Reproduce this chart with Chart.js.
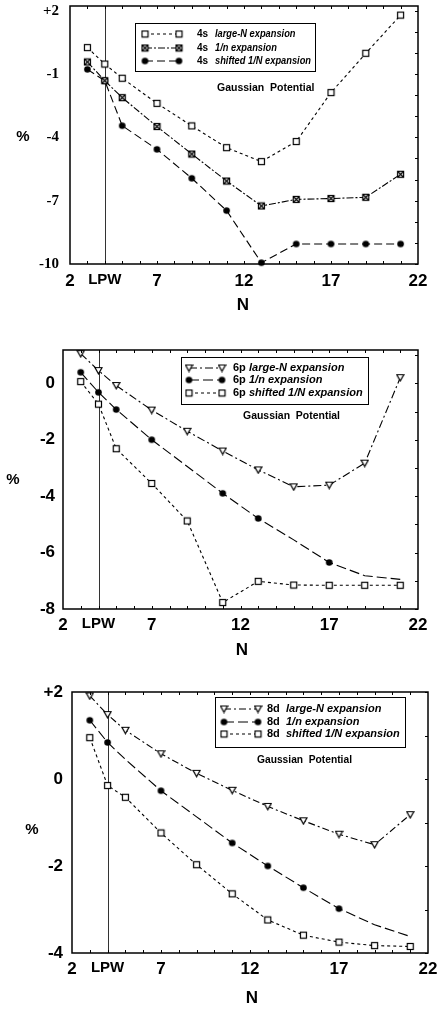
<!DOCTYPE html>
<html>
<head>
<meta charset="utf-8">
<script src="https://cdn.jsdelivr.net/npm/chart.js@4.4.1/dist/chart.umd.min.js"></script>
<style>
  body { margin: 0; background: #fff; }
  canvas { position: absolute; left: 0; }
</style>
</head>
<body>
<canvas id="c4s" width="437" height="330" style="top:0"></canvas>
<canvas id="c6p" width="437" height="330" style="top:330px"></canvas>
<canvas id="c8d" width="437" height="351" style="top:660px"></canvas>
<script>
// N values shared by all three panels
const nValues = [3, 4, 5, 7, 9, 11, 13, 15, 17, 19, 21];
const xTickValues = [2, 4, 7, 12, 17, 22];
const xTickLabels = ['2', 'LPW', '7', '12', '17', '22'];
const lpwN = 4;

// 4s state, % error
const s4LargeN = [0.25, -0.53, -1.2, -2.39, -3.46, -4.49, -5.15, -4.2, -1.88, -0.02, 1.79];
const s4OneN = [-0.43, -1.32, -2.12, -3.49, -4.79, -6.07, -7.25, -6.94, -6.9, -6.84, -5.75];
const s4Shifted = [-0.78, -1.32, -3.45, -4.57, -5.94, -7.47, -9.94, -9.05, -9.05, -9.05, -9.05];
const s4YTicks = [-10, -7, -4, -1, 2];
const s4YLabels = ['-10', '-7', '-4', '-1', '+2'];

// 6p state
const p6LargeN = [1.05, 0.45, -0.08, -0.95, -1.7, -2.4, -3.07, -3.67, -3.61, -2.83, 0.2];
const p6OneN = [0.39, -0.32, -0.93, -2.0, -2.95, -3.9, -4.79, -5.55, -6.35, -6.82, -6.95];
const p6Shifted = [0.06, -0.74, -2.32, -3.55, -4.88, -7.77, -7.02, -7.15, -7.16, -7.16, -7.16];
const p6YTicks = [-8, -6, -4, -2, 0];
const p6YLabels = ['-8', '-6', '-4', '-2', '0'];

// 8d state
const d8LargeN = [1.91, 1.48, 1.12, 0.58, 0.13, -0.26, -0.63, -0.96, -1.27, -1.51, -0.82];
const d8OneN = [1.35, 0.84, 0.45, -0.27, -0.87, -1.47, -2.0, -2.5, -2.98, -3.35, -3.62];
const d8Shifted = [0.95, -0.15, -0.42, -1.24, -1.97, -2.64, -3.24, -3.59, -3.75, -3.83, -3.85];
const d8YTicks = [-4, -2, 0, 2];
const d8YLabels = ['-4', '-2', '0', '+2'];

const seriesNames = ['large-N expansion', '1/n expansion', 'shifted 1/N expansion'];

function makeMarker(kind) {
    const c = document.createElement('canvas');
    c.width = 9;
    c.height = 9;
    const g = c.getContext('2d');
    g.lineWidth = 1.2;
    g.strokeStyle = '#000';
    g.fillStyle = '#fff';
    if (kind === 'square' || kind === 'xsquare') {
        g.fillRect(1.5, 1.5, 6, 6);
        g.strokeRect(1.5, 1.5, 6, 6);
        if (kind === 'xsquare') {
            g.beginPath();
            g.moveTo(2, 2); g.lineTo(7, 7);
            g.moveTo(7, 2); g.lineTo(2, 7);
            g.stroke();
        }
    } else if (kind === 'circle') {
        g.fillStyle = '#000';
        g.beginPath();
        g.arc(4.5, 4.5, 3.3, 0, Math.PI * 2);
        g.fill();
    } else if (kind === 'triangle') {
        g.beginPath();
        g.moveTo(1, 1.5); g.lineTo(8, 1.5); g.lineTo(4.5, 7.8);
        g.closePath();
        g.fill();
        g.stroke();
    }
    return c;
}

const markers = {
    square: makeMarker('square'),
    xsquare: makeMarker('xsquare'),
    circle: makeMarker('circle'),
    triangle: makeMarker('triangle'),
};

const SANS = '"Liberation Sans", Arial, sans-serif';
const SERIF = '"Liberation Serif", "Times New Roman", serif';

const makeDecor = (cfg) => ({
    id: 'decor',
    beforeDatasetsDraw(chart) {
        const { ctx, chartArea: a, scales: { x } } = chart;
        const px = Math.round(x.getPixelForValue(lpwN)) + 0.5;
        ctx.save();
        ctx.strokeStyle = '#333';
        ctx.lineWidth = 1;
        ctx.beginPath();
        ctx.moveTo(px, a.top);
        ctx.lineTo(px, a.bottom);
        ctx.stroke();
        ctx.restore();
    },
    afterDraw(chart) {
        const { ctx, chartArea: a, scales: { x, y } } = chart;
        ctx.save();

        // frame
        ctx.strokeStyle = '#000';
        ctx.lineWidth = 1.5;
        ctx.strokeRect(a.left, a.top, a.right - a.left, a.bottom - a.top);

        // small inward ticks
        ctx.lineWidth = 1;
        ctx.beginPath();
        for (let n = 3; n < 22; n++) {
            const px = Math.round(x.getPixelForValue(n)) + 0.5;
            ctx.moveTo(px, a.bottom); ctx.lineTo(px, a.bottom - 3);
            ctx.moveTo(px, a.top); ctx.lineTo(px, a.top + 3);
        }
        for (let v = Math.ceil(y.min); v <= y.max; v++) {
            const py = Math.round(y.getPixelForValue(v)) + 0.5;
            ctx.moveTo(a.right, py); ctx.lineTo(a.right - 3, py);
        }
        ctx.stroke();

        // legend box
        const lg = cfg.legend;
        ctx.fillStyle = '#fff';
        ctx.fillRect(lg.x, lg.y, lg.w, lg.h);
        ctx.lineWidth = 1;
        ctx.strokeRect(lg.x + 0.5, lg.y + 0.5, lg.w, lg.h);
        const descFont = 'italic bold ' + lg.size + 'px ' + SANS;
        ctx.font = descFont;
        const longest = Math.max(...seriesNames.map((t) => ctx.measureText(t).width));
        const squeeze = Math.min(1, (lg.x + lg.w - 4 - lg.dx) / longest);
        cfg.series.forEach((s, i) => {
            const ry = lg.rows[i];
            ctx.setLineDash(s.dash);
            ctx.beginPath();
            ctx.moveTo(lg.sx0, ry);
            ctx.lineTo(lg.sx1, ry);
            ctx.stroke();
            ctx.setLineDash([]);
            const m = markers[s.marker];
            ctx.drawImage(m, lg.sx0 - 4.5, ry - 4.5);
            ctx.drawImage(m, lg.sx1 - 4.5, ry - 4.5);
            ctx.fillStyle = '#000';
            ctx.textBaseline = 'middle';
            ctx.textAlign = 'left';
            ctx.font = 'bold ' + lg.size + 'px ' + SANS;
            ctx.fillText(cfg.state, lg.px, ry);
            ctx.font = descFont;
            const w = ctx.measureText(seriesNames[i]).width * squeeze;
            ctx.fillText(seriesNames[i], lg.dx, ry, w);
        });

        // labels
        ctx.fillStyle = '#000';
        ctx.textBaseline = 'middle';
        ctx.textAlign = 'left';
        ctx.font = 'bold 10.5px ' + SANS;
        ctx.fillText('Gaussian  Potential', cfg.gauss.x, cfg.gauss.y, cfg.gauss.w);
        ctx.textAlign = 'center';
        ctx.font = 'bold 15px ' + SANS;
        ctx.fillText('%', cfg.percent.x, cfg.percent.y);
        ctx.font = 'bold 17px ' + SANS;
        ctx.fillText('N', cfg.nLabel.x, cfg.nLabel.y);
        ctx.restore();
    },
});

const makePanel = (id, cfg) => {
    const canvas = document.getElementById(id);
    const W = canvas.width;
    const H = canvas.height;
    return new Chart(canvas, {
        type: 'line',
        data: {
            datasets: cfg.series.map((s) => ({
                data: nValues.map((n, i) => ({ x: n, y: s.values[i] })),
                borderColor: '#000',
                borderWidth: 1.1,
                borderDash: s.dash,
                pointStyle: markers[s.marker],
                pointRadius: (c) => (c.dataIndex !== undefined && (s.hide || []).includes(nValues[c.dataIndex])) ? 0 : 4,
                tension: 0,
                fill: false,
                clip: false,
            })),
        },
        options: {
            responsive: false,
            maintainAspectRatio: false,
            animation: false,
            events: [],
            devicePixelRatio: 1,
            layout: { padding: { top: cfg.area.top, right: W - cfg.area.right, left: 0, bottom: 0 } },
            plugins: { legend: { display: false }, tooltip: { enabled: false } },
            scales: {
                x: {
                    type: 'linear',
                    min: 2,
                    max: 22,
                    afterBuildTicks: (sc) => { sc.ticks = xTickValues.map((v) => ({ value: v })); },
                    afterFit: (sc) => { sc.height = H - cfg.area.bottom; sc.paddingLeft = 0; sc.paddingRight = 0; },
                    grid: { display: false, drawTicks: false },
                    border: { display: false },
                    ticks: {
                        autoSkip: false,
                        maxRotation: 0,
                        padding: cfg.xPad,
                        color: '#000',
                        font: (c) => ({ family: SANS, weight: 'bold', size: (c.tick && c.tick.value === lpwN) ? 15 : 17 }),
                        callback: (v) => xTickLabels[xTickValues.indexOf(v)],
                    },
                },
                y: {
                    type: 'linear',
                    min: cfg.yMin,
                    max: cfg.yMax,
                    afterBuildTicks: (sc) => { sc.ticks = cfg.yTicks.map((v) => ({ value: v })); },
                    afterFit: (sc) => { sc.width = cfg.area.left; sc.paddingTop = 0; sc.paddingBottom = 0; },
                    grid: { display: false, drawTicks: false },
                    border: { display: false },
                    ticks: {
                        autoSkip: false,
                        padding: cfg.yPad,
                        color: '#000',
                        font: { family: cfg.yFont, weight: 'bold', size: cfg.yFontSize },
                        callback: (v) => cfg.yLabels[cfg.yTicks.indexOf(v)],
                    },
                },
            },
        },
        plugins: [makeDecor(cfg)],
    });
};

makePanel('c4s', {
    state: '4s',
    area: { left: 70, right: 418, top: 6, bottom: 264 },
    yMin: -10, yMax: 2.22, yTicks: s4YTicks, yLabels: s4YLabels,
    yFont: SERIF, yFontSize: 15, yPad: 11, xPad: 7,
    series: [
        { values: s4LargeN, marker: 'square', dash: [3, 3] },
        { values: s4OneN, marker: 'xsquare', dash: [7, 2, 2, 2] },
        { values: s4Shifted, marker: 'circle', dash: [8, 4] },
    ],
    legend: { x: 135, y: 23, w: 180, h: 48, rows: [34, 48, 61], sx0: 145, sx1: 179, px: 197, dx: 215, size: 10 },
    gauss: { x: 217, y: 88, w: 98 },
    percent: { x: 23, y: 137 },
    nLabel: { x: 243, y: 305 },
});

makePanel('c6p', {
    state: '6p',
    area: { left: 63, right: 418, top: 20, bottom: 279 },
    yMin: -8, yMax: 1.18, yTicks: p6YTicks, yLabels: p6YLabels,
    yFont: SANS, yFontSize: 17, yPad: 8, xPad: 6,
    series: [
        { values: p6LargeN, marker: 'triangle', dash: [8, 3, 2, 3] },
        { values: p6OneN, marker: 'circle', dash: [10, 4], hide: [9, 15, 19, 21] },
        { values: p6Shifted, marker: 'square', dash: [3, 3] },
    ],
    legend: { x: 181, y: 27, w: 187, h: 47, rows: [38, 50, 63], sx0: 189, sx1: 222, px: 233, dx: 249, size: 11 },
    gauss: { x: 243, y: 86, w: 97 },
    percent: { x: 13, y: 150 },
    nLabel: { x: 242, y: 320 },
});

makePanel('c8d', {
    state: '8d',
    area: { left: 72, right: 428, top: 32, bottom: 293 },
    yMin: -4, yMax: 2, yTicks: d8YTicks, yLabels: d8YLabels,
    yFont: SANS, yFontSize: 17, yPad: 9, xPad: 6,
    series: [
        { values: d8LargeN, marker: 'triangle', dash: [7, 3, 2, 3] },
        { values: d8OneN, marker: 'circle', dash: [10, 4], hide: [5, 9, 19, 21] },
        { values: d8Shifted, marker: 'square', dash: [3, 3] },
    ],
    legend: { x: 215, y: 37, w: 190, h: 50, rows: [49, 62, 74], sx0: 224, sx1: 258, px: 267, dx: 286, size: 11 },
    gauss: { x: 257, y: 100, w: 95 },
    percent: { x: 32, y: 170 },
    nLabel: { x: 252, y: 338 },
});
</script>
</body>
</html>
